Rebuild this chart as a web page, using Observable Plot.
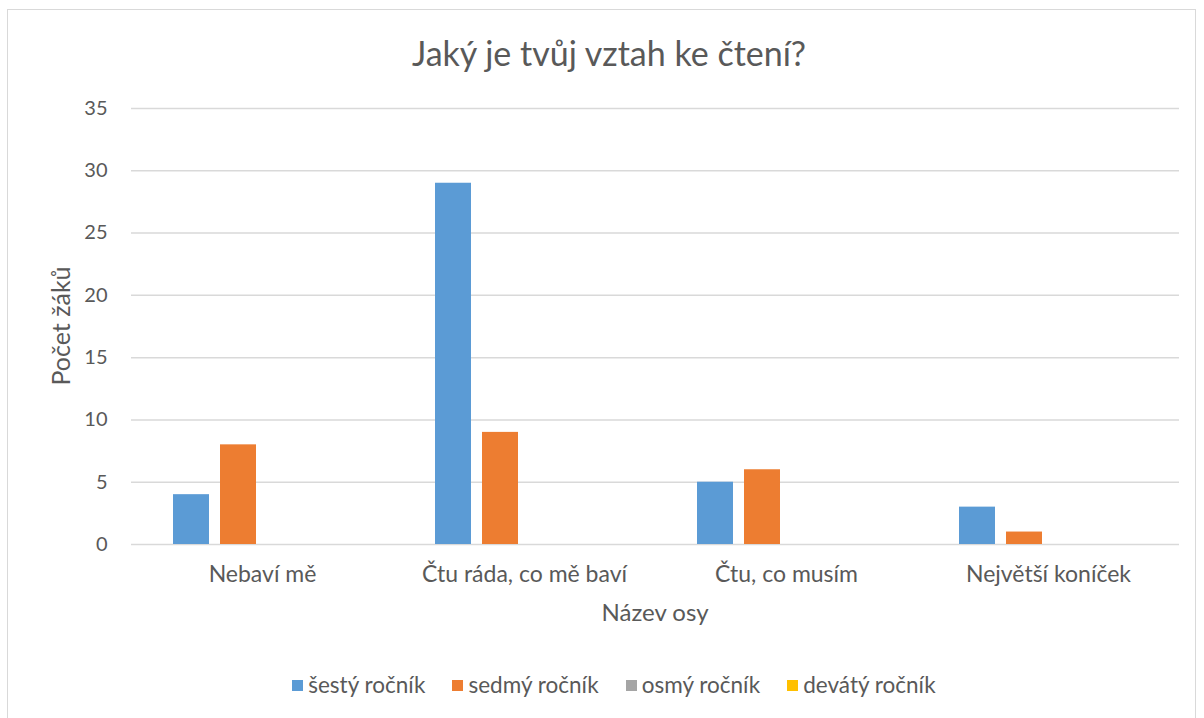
<!DOCTYPE html>
<html>
<head>
<meta charset="utf-8">
<script src="https://cdn.jsdelivr.net/npm/d3@7"></script>
<script src="https://cdn.jsdelivr.net/npm/@observablehq/plot@0.6"></script>
<style>
  html, body { margin: 0; padding: 0; background: #fff; }
  #wrap { position: relative; width: 1204px; height: 718px; overflow: hidden; font-family: Lato, "Open Sans", sans-serif; color: #595959; }
  #frame { position: absolute; left: 7px; top: 9px; width: 1189px; height: 720px; border: 1px solid #D9D9D9; box-sizing: border-box; }
  #title { position: absolute; left: 0; width: 1218px; top: 31px; text-align: center; font-size: 34px; line-height: 44px; }
  #ylabel { position: absolute; left: 60px; top: 326px; transform: translate(-50%, -50%) rotate(-90deg); font-size: 25px; white-space: nowrap; }
  #xlabel { position: absolute; left: 0; width: 1310px; top: 597px; text-align: center; font-size: 24px; line-height: 30px; }
  #legend { position: absolute; left: 0; width: 1228px; top: 670px; display: flex; justify-content: center; gap: 27px; font-size: 22.5px; line-height: 30px; }
  #legend .item { display: flex; align-items: center; }
  #legend .sw { width: 11px; height: 11px; margin-right: 5px; }
  #chart { position: absolute; left: 0; top: 0; }
</style>
</head>
<body>
<div id="wrap">
  <div id="frame"></div>
  <div id="chart"></div>
  <div id="title">Jaký je tvůj vztah ke čtení?</div>
  <div id="ylabel">Počet žáků</div>
  <div id="xlabel">Název osy</div>
  <div id="legend"></div>
</div>
<script>
const categories = ["Nebaví mě", "Čtu ráda, co mě baví", "Čtu, co musím", "Největší koníček"];
const seriesNames = ["šestý ročník", "sedmý ročník", "osmý ročník", "devátý ročník"];
const sesty = [4, 29, 5, 3];
const sedmy = [8, 9, 6, 1];
const osmy = [0, 0, 0, 0];
const devaty = [0, 0, 0, 0];
const seriesColors = ["#5B9BD5", "#ED7D31", "#A5A5A5", "#FFC000"];
const yTicks = [0, 5, 10, 15, 20, 25, 30, 35];

const seriesValues = [sesty, sedmy, osmy, devaty];
const data = [];
categories.forEach((c, i) => {
  seriesNames.forEach((s, j) => {
    data.push({category: c, series: s, value: seriesValues[j][i]});
  });
});

const chart = Plot.plot({
  width: 1204,
  height: 718,
  marginLeft: 129,
  marginRight: 24,
  marginTop: 108,
  marginBottom: 174,
  style: {fontFamily: "Lato, 'Open Sans', sans-serif", fontSize: "20px", color: "#595959", background: "transparent"},
  fx: {domain: categories, padding: 0, label: null},
  x: {domain: seriesNames, paddingInner: 0.229, paddingOuter: 0.87, axis: null},
  y: {domain: [0, 35], label: null},
  color: {domain: seriesNames, range: seriesColors},
  marks: [
    Plot.gridY(yTicks, {stroke: "#D9D9D9", strokeOpacity: 1, strokeWidth: 1.5}),
    Plot.axisY({ticks: yTicks, tickSize: 0, tickPadding: 24, label: null, fontSize: 20}),
    Plot.axisFx({anchor: "bottom", tickSize: 0, tickPadding: 21, label: null, fontSize: 23}),
    Plot.barY(data, {fx: "category", x: "series", y: "value", fill: "series"})
  ]
});
document.getElementById("chart").appendChild(chart);

const legend = document.getElementById("legend");
seriesNames.forEach((s, i) => {
  const item = document.createElement("div");
  item.className = "item";
  const sw = document.createElement("span");
  sw.className = "sw";
  sw.style.background = seriesColors[i];
  const t = document.createElement("span");
  t.textContent = s;
  item.appendChild(sw);
  item.appendChild(t);
  legend.appendChild(item);
});
</script>
</body>
</html>
